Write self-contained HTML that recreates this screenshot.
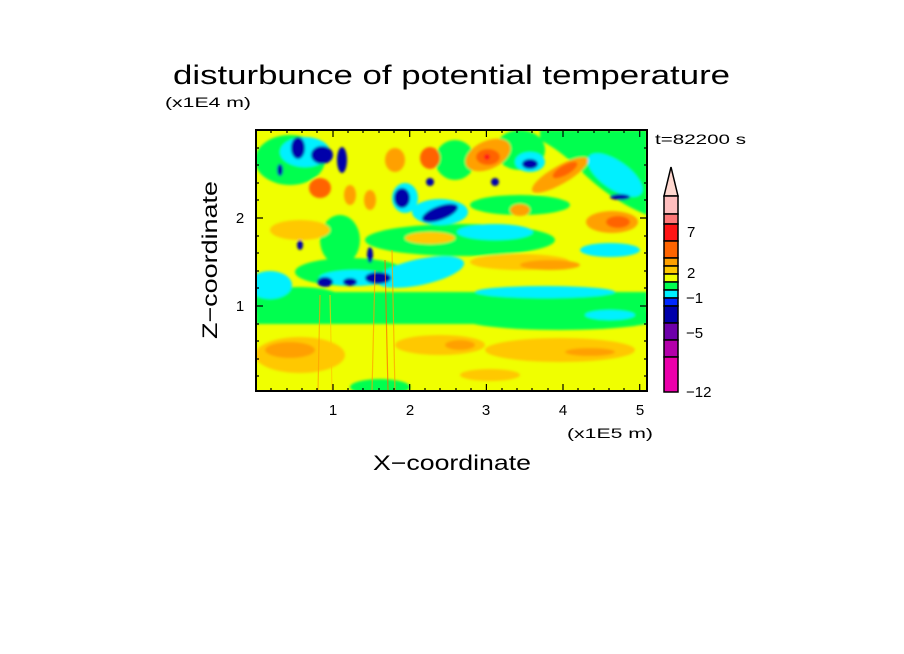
<!DOCTYPE html>
<html><head><meta charset="utf-8"><style>html,body{margin:0;padding:0;background:#fff}svg{display:block}text{font-family:"Liberation Sans",sans-serif;fill:#000}</style></head>
<body>
<svg width="904" height="654" viewBox="0 0 904 654" xmlns="http://www.w3.org/2000/svg">
<defs>
<clipPath id="pc"><rect x="256" y="130" width="391" height="261"/></clipPath>
<filter id="bl" x="-20%" y="-20%" width="140%" height="140%"><feGaussianBlur stdDeviation="1.2"/></filter>
</defs>
<text x="173" y="84" font-size="27" textLength="557" lengthAdjust="spacingAndGlyphs">disturbunce of potential temperature</text>
<text x="165" y="107" font-size="14" textLength="86" lengthAdjust="spacingAndGlyphs">(x1E4 m)</text>
<text x="655" y="144" font-size="14" textLength="91" lengthAdjust="spacingAndGlyphs">t=82200 s</text>

<g clip-path="url(#pc)">
<rect x="256" y="130" width="391" height="261" fill="#f0ff00"/>
<g filter="url(#bl)">
<!-- green bands -->
<rect x="256" y="292" width="391" height="32" fill="#00ff50"/>
<ellipse cx="560" cy="318" rx="100" ry="12" fill="#00ff50"/>
<ellipse cx="300" cy="305" rx="50" ry="18" fill="#00ff50"/>
<path d="M540 130 L647 130 L647 215 Q610 200 580 170 Q560 150 540 140 Z" fill="#00ff50"/>
<ellipse cx="460" cy="240" rx="95" ry="16" fill="#00ff50"/>
<ellipse cx="520" cy="205" rx="50" ry="10" fill="#00ff50"/>
<ellipse cx="290" cy="160" rx="35" ry="25" fill="#00ff50"/>
<ellipse cx="340" cy="240" rx="20" ry="25" fill="#00ff50"/>
<ellipse cx="350" cy="272" rx="55" ry="14" fill="#00ff50"/>
<ellipse cx="380" cy="387" rx="30" ry="8" fill="#00ff50"/>
<ellipse cx="455" cy="160" rx="20" ry="20" fill="#00ff50"/>
<ellipse cx="520" cy="150" rx="25" ry="20" fill="#00ff50"/>
<!-- cyan -->
<ellipse cx="270" cy="285" rx="22" ry="14" fill="#00f0ff"/>
<ellipse cx="420" cy="272" rx="45" ry="13" fill="#00f0ff" transform="rotate(-12 420 272)"/>
<ellipse cx="545" cy="292" rx="70" ry="6" fill="#00f0ff"/>
<ellipse cx="610" cy="250" rx="30" ry="7" fill="#00f0ff"/>
<ellipse cx="615" cy="175" rx="32" ry="14" fill="#00f0ff" transform="rotate(35 615 175)"/>
<ellipse cx="495" cy="232" rx="38" ry="8" fill="#00f0ff"/>
<ellipse cx="305" cy="152" rx="25" ry="15" fill="#00f0ff"/>
<ellipse cx="440" cy="212" rx="28" ry="13" fill="#00f0ff"/>
<ellipse cx="530" cy="162" rx="15" ry="10" fill="#00f0ff"/>
<ellipse cx="355" cy="278" rx="36" ry="8" fill="#00f0ff"/>
<ellipse cx="405" cy="198" rx="13" ry="15" fill="#00f0ff"/>
<ellipse cx="610" cy="315" rx="25" ry="5" fill="#00f0ff"/>
<!-- gold/orange bottom -->
<ellipse cx="300" cy="355" rx="45" ry="18" fill="#ffc800"/>
<ellipse cx="440" cy="345" rx="45" ry="10" fill="#ffc800"/>
<ellipse cx="560" cy="350" rx="75" ry="12" fill="#ffc800"/>
<ellipse cx="490" cy="375" rx="30" ry="6" fill="#ffc800"/>
<ellipse cx="290" cy="350" rx="25" ry="8" fill="#ffa000"/>
<ellipse cx="460" cy="345" rx="15" ry="5" fill="#ffa000"/>
<ellipse cx="590" cy="352" rx="25" ry="4" fill="#ffa000"/>
<ellipse cx="520" cy="262" rx="50" ry="8" fill="#ffc800"/>
<ellipse cx="550" cy="265" rx="30" ry="5" fill="#ffa000"/>
<ellipse cx="430" cy="238" rx="25" ry="6" fill="#ffc800"/>
<ellipse cx="300" cy="230" rx="30" ry="10" fill="#ffc800"/>
<!-- orange upper -->
<ellipse cx="488" cy="155" rx="24" ry="14" fill="#ffa000" transform="rotate(-25 488 155)"/>
<ellipse cx="488" cy="157" rx="12" ry="8" fill="#ff6400"/>
<circle cx="487" cy="157" r="3" fill="#ff1414"/>
<ellipse cx="560" cy="175" rx="32" ry="9" fill="#ffa000" transform="rotate(-30 560 175)"/>
<ellipse cx="565" cy="170" rx="14" ry="5" fill="#ff6400" transform="rotate(-30 565 170)"/>
<ellipse cx="612" cy="222" rx="26" ry="11" fill="#ffa000"/>
<ellipse cx="618" cy="222" rx="12" ry="6" fill="#ff6400"/>
<ellipse cx="430" cy="158" rx="10" ry="11" fill="#ff6400"/>
<ellipse cx="395" cy="160" rx="10" ry="12" fill="#ffa000"/>
<ellipse cx="320" cy="188" rx="11" ry="10" fill="#ff6400"/>
<ellipse cx="350" cy="195" rx="6" ry="10" fill="#ffa000"/>
<ellipse cx="370" cy="200" rx="6" ry="10" fill="#ffa000"/>
<ellipse cx="520" cy="210" rx="10" ry="6" fill="#ffa000"/>
<!-- dark blue blobs -->
<ellipse cx="298" cy="148" rx="7" ry="11" fill="#0000aa"/>
<ellipse cx="322" cy="155" rx="11" ry="9" fill="#0000aa"/>
<ellipse cx="342" cy="160" rx="5" ry="13" fill="#0000aa"/>
<ellipse cx="402" cy="198" rx="8" ry="10" fill="#0000aa"/>
<ellipse cx="440" cy="213" rx="19" ry="7" fill="#0000aa" transform="rotate(-20 440 213)"/>
<ellipse cx="530" cy="164" rx="8" ry="5" fill="#0000aa"/>
<circle cx="430" cy="182" r="4" fill="#0000aa"/>
<circle cx="495" cy="182" r="4" fill="#0000aa"/>
<ellipse cx="620" cy="197" rx="10" ry="3" fill="#0000aa"/>
<ellipse cx="280" cy="170" rx="3" ry="6" fill="#0000aa"/>
<ellipse cx="300" cy="245" rx="3" ry="5" fill="#0000aa"/>
<ellipse cx="325" cy="282" rx="8" ry="5" fill="#0000aa"/>
<ellipse cx="350" cy="282" rx="7" ry="4" fill="#0000aa"/>
<ellipse cx="378" cy="278" rx="13" ry="6" fill="#0000aa"/>
<ellipse cx="370" cy="255" rx="3" ry="8" fill="#0000aa"/>
</g>
<g stroke-width="1.2" opacity="0.7">
<line x1="320" y1="295" x2="318" y2="391" stroke="#ffa000"/>
<line x1="330" y1="295" x2="332" y2="391" stroke="#ffc800"/>
<line x1="375" y1="270" x2="372" y2="391" stroke="#ffa000"/>
<line x1="385" y1="260" x2="388" y2="391" stroke="#ff6400"/>
<line x1="392" y1="250" x2="395" y2="391" stroke="#ffa000"/>
</g>
</g>
<rect x="256" y="130" width="391" height="261" fill="none" stroke="#000" stroke-width="2"/>
<g stroke="#000" stroke-width="1.2">
<path d="M333 130v7M409.7 130v7M486.4 130v7M563 130v7M639.7 130v7M333 391v-7M409.7 391v-7M486.4 391v-7M563 391v-7M639.7 391v-7"/>
<path d="M256 218h7M256 306h7M647 218h-7M647 306h-7"/>
<path d="M271 130v3M287 130v3M302 130v3M317 130v3M348 130v3M363 130v3M379 130v3M394 130v3M425 130v3M440 130v3M456 130v3M471 130v3M502 130v3M517 130v3M532 130v3M548 130v3M578 130v3M594 130v3M609 130v3M624 130v3
M271 391v-3M287 391v-3M302 391v-3M317 391v-3M348 391v-3M363 391v-3M379 391v-3M394 391v-3M425 391v-3M440 391v-3M456 391v-3M471 391v-3M502 391v-3M517 391v-3M532 391v-3M548 391v-3M578 391v-3M594 391v-3M609 391v-3M624 391v-3"/>
<path d="M256 148h3M256 165h3M256 183h3M256 200h3M256 236h3M256 253h3M256 271h3M256 288h3M256 324h3M256 341h3M256 359h3M256 376h3
M647 148h-3M647 165h-3M647 183h-3M647 200h-3M647 236h-3M647 253h-3M647 271h-3M647 288h-3M647 324h-3M647 341h-3M647 359h-3M647 376h-3"/>
</g>
<g font-size="15" text-anchor="middle">
<text x="333" y="415">1</text><text x="410" y="415">2</text><text x="486" y="415">3</text><text x="563" y="415">4</text><text x="640" y="415">5</text>
</g>
<text x="240" y="223" font-size="15" text-anchor="middle">2</text>
<text x="240" y="311" font-size="15" text-anchor="middle">1</text>
<text x="567" y="438" font-size="14" textLength="86" lengthAdjust="spacingAndGlyphs">(x1E5 m)</text>
<text x="452" y="470" font-size="21" text-anchor="middle" textLength="158" lengthAdjust="spacingAndGlyphs">X−coordinate</text>
<text x="0" y="0" font-size="21" text-anchor="middle" textLength="158" lengthAdjust="spacingAndGlyphs" transform="translate(217 260) rotate(-90)">Z−coordinate</text>

<g stroke="#000" stroke-width="1.5">
<path d="M664 196 L671 167 L678 196 Z" fill="#ffd8d0"/>
<rect x="664" y="196" width="14" height="18" fill="#ffbebe"/>
<rect x="664" y="214" width="14" height="10" fill="#ff7878"/>
<rect x="664" y="224" width="14" height="17" fill="#ff1414"/>
<rect x="664" y="241" width="14" height="17" fill="#ff6400"/>
<rect x="664" y="258" width="14" height="8" fill="#ffa000"/>
<rect x="664" y="266" width="14" height="8" fill="#ffc800"/>
<rect x="664" y="274" width="14" height="8" fill="#f0ff00"/>
<rect x="664" y="282" width="14" height="8" fill="#00ff50"/>
<rect x="664" y="290" width="14" height="8" fill="#00f0ff"/>
<rect x="664" y="298" width="14" height="8" fill="#0028ff"/>
<rect x="664" y="306" width="14" height="17" fill="#0000aa"/>
<rect x="664" y="323" width="14" height="17" fill="#6e00aa"/>
<rect x="664" y="340" width="14" height="17" fill="#b400aa"/>
<rect x="664" y="357" width="14" height="35" fill="#eb00aa"/>
</g>
<g font-size="15">
<text x="687" y="237">7</text>
<text x="687" y="278">2</text>
<text x="686" y="303">−1</text>
<text x="686" y="338">−5</text>
<text x="686" y="397">−12</text>
</g>
</svg>
</body></html>
